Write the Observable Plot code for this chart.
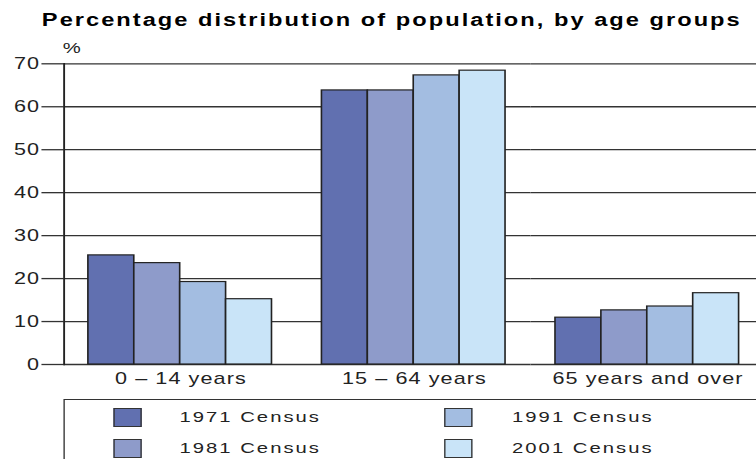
<!DOCTYPE html>
<html>
<head>
<meta charset="utf-8">
<script src="https://cdn.jsdelivr.net/npm/d3@7"></script>
<script src="https://cdn.jsdelivr.net/npm/@observablehq/plot@0.6"></script>
<style>
  html, body { margin: 0; padding: 0; background: #fff; overflow: hidden; width: 756px; height: 459px; }
  #stage { position: absolute; left: 0; top: 0; width: 560px; height: 459px; transform: scaleX(1.35); transform-origin: 0 0; font-family: "Liberation Sans", Arial, Helvetica, sans-serif; color: #111; }
  #title { position: absolute; left: 31px; top: 11.5px; font-size: 17.5px; line-height: 17px; font-weight: bold; white-space: nowrap; display: inline-block; color: #000; }
  #pct { position: absolute; left: 46.4px; top: 40.3px; font-size: 15px; line-height: 15px; color: #222; }
  #chart { position: absolute; left: 0; top: 36px; }
  #legend { position: absolute; left: 46.9px; top: 399px; width: 560px; height: 80px; border: 1.3px solid #333; box-sizing: border-box; }
  .sw { position: absolute; width: 21.5px; height: 19px; border: 1.2px solid #333; box-sizing: border-box; }
  .lt { position: absolute; font-size: 15px; line-height: 15px; letter-spacing: 1.5px; color: #222; white-space: nowrap; }
</style>
</head>
<body>
<div id="stage">
  <span id="title"></span>
  <span id="pct">%</span>
  <div id="chart"></div>
  <div id="legend"></div>
</div>
<script>
const titleText = "Percentage distribution of population, by age groups";
const groups = ["0 – 14 years", "15 – 64 years", "65 years and over"];
const censuses = ["1971 Census", "1981 Census", "1991 Census", "2001 Census"];
const v1971 = [25.4, 63.8, 10.9];
const v1981 = [23.6, 63.8, 12.6];
const v1991 = [19.2, 67.3, 13.5];
const v2001 = [15.2, 68.4, 16.6];
const colors = ["#6170b0", "#8e9bca", "#a3bde1", "#c9e4f8"];
const yTicks = [0, 10, 20, 30, 40, 50, 60, 70];

const series = [v1971, v1981, v1991, v2001];
const rows = [];
groups.forEach((g, i) => censuses.forEach((c, j) => rows.push({group: g, census: c, value: series[j][i]})));

const chart = Plot.plot({
  width: 560,
  height: 360,
  marginLeft: 45.9,
  marginRight: -7.5,
  marginTop: 27.3,
  marginBottom: 32,
  style: {fontFamily: "'Liberation Sans', Arial, Helvetica, sans-serif", fontSize: "16px", color: "#222", background: "transparent", letterSpacing: "0.8px", overflow: "visible"},
  fx: {domain: groups, padding: 0, label: null},
  x: {domain: censuses, paddingInner: 0, paddingOuter: 0.5, axis: null},
  y: {domain: [0, 70], axis: null},
  color: {domain: censuses, range: colors},
  marks: [
    Plot.gridY(yTicks, {stroke: "#333", strokeOpacity: 1, strokeWidth: 1.3}),
    Plot.axisY(yTicks, {tickSize: 16.3, tickPadding: 1.5, fontSize: 16, stroke: "#333", strokeWidth: 1.3, label: null}),
    Plot.frame({anchor: "left", facetAnchor: "left", stroke: "#222", strokeWidth: 1.4}),
    Plot.barY(rows, {fx: "group", x: "census", y: "value", fill: "census", stroke: "#222", strokeWidth: 1.2}),
    Plot.axisFx({anchor: "bottom", tickSize: 0, tickPadding: 8, fontSize: 16, label: null})
  ]
});
document.getElementById("chart").appendChild(chart);

// title, fitted to the reference width
const t = document.getElementById("title");
t.textContent = titleText;
const w0 = t.offsetWidth;
t.style.letterSpacing = ((518 - w0) / titleText.length) + "px";

// legend
const legend = document.getElementById("legend");
const colX = [[35.8, 85], [281, 331.4]];
const rowY = [[8.3, 8.5], [38.7, 40.2]];
censuses.forEach((c, k) => {
  const col = k < 2 ? 0 : 1, row = k % 2;
  const sw = document.createElement("div");
  sw.className = "sw";
  sw.style.left = colX[col][0] + "px";
  sw.style.top = rowY[row][0] + "px";
  sw.style.background = colors[k];
  legend.appendChild(sw);
  const lt = document.createElement("span");
  lt.className = "lt";
  lt.textContent = c;
  lt.style.left = colX[col][1] + "px";
  lt.style.top = rowY[row][1] + "px";
  legend.appendChild(lt);
});
</script>
</body>
</html>
